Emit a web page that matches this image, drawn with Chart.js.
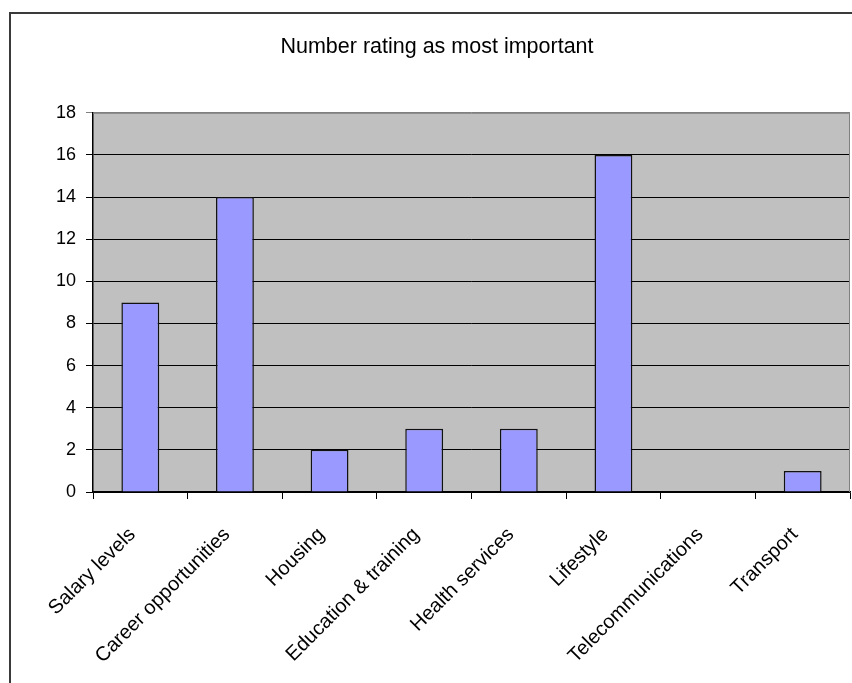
<!DOCTYPE html>
<html>
<head>
<meta charset="utf-8">
<script src="https://cdn.jsdelivr.net/npm/chart.js@4.4.1/dist/chart.umd.min.js"></script>
<style>
  html, body { margin: 0; padding: 0; background: #fff; }
  #wrap { width: 852px; height: 683px; position: relative; }
</style>
</head>
<body>
<div id="wrap"><canvas id="c" width="852" height="683"></canvas></div>
<script>
const chartTitle = "Number rating as most important";
const categories = ["Salary levels", "Career opportunities", "Housing", "Education & training", "Health services", "Lifestyle", "Telecommunications", "Transport"];
const ratingCounts = [9, 14, 2, 3, 3, 16, 0, 1];
const yTicks = [0, 2, 4, 6, 8, 10, 12, 14, 16, 18];

const frame = {
  id: 'frame',
  beforeDraw(chart) {
    const ctx = chart.ctx;
    const a = chart.chartArea;
    ctx.save();
    ctx.fillStyle = '#ffffff';
    ctx.fillRect(0, 0, chart.width, chart.height);
    ctx.strokeStyle = '#3a3a3a';
    ctx.lineWidth = 2;
    ctx.beginPath();
    ctx.moveTo(10, chart.height + 2);
    ctx.lineTo(10, 13);
    ctx.lineTo(chart.width + 2, 13);
    ctx.stroke();
    ctx.fillStyle = '#c0c0c0';
    ctx.fillRect(a.left, a.top, a.right - a.left, a.bottom - a.top);
    ctx.restore();
  },
  afterDatasetsDraw(chart) {
    const ctx = chart.ctx;
    const a = chart.chartArea;
    ctx.save();
    ctx.strokeStyle = '#808080';
    ctx.lineWidth = 1;
    ctx.beginPath();
    ctx.moveTo(a.left, a.top + 0.5);
    ctx.lineTo(a.right - 0.5, a.top + 0.5);
    ctx.lineTo(a.right - 0.5, a.bottom);
    ctx.stroke();
    ctx.restore();
  }
};

new Chart(document.getElementById('c'), {
  type: 'bar',
  data: {
    labels: categories,
    datasets: [{
      data: ratingCounts,
      backgroundColor: '#9999ff',
      borderColor: '#111111',
      borderWidth: 1.5,
      barPercentage: 0.4,
      categoryPercentage: 1.0
    }]
  },
  options: {
    responsive: false,
    animation: false,
    devicePixelRatio: 1,
    layout: { padding: { left: 24, right: 2, top: 34, bottom: 0 } },
    plugins: {
      legend: { display: false },
      tooltip: { enabled: false },
      title: {
        display: true,
        text: chartTitle,
        color: '#000',
        font: { family: 'Liberation Sans, Arial, sans-serif', size: 21.5, weight: 'normal' },
        padding: { top: 0, bottom: 53 }
      }
    },
    scales: {
      x: {
        offset: true,
        grid: { display: true, drawOnChartArea: false, drawTicks: true, tickLength: 7, color: '#000', lineWidth: 1 },
        border: { display: true, color: '#000', width: 1.5 },
        ticks: {
          color: '#000',
          minRotation: 45,
          maxRotation: 45,
          padding: 24,
          labelOffset: -8,
          autoSkip: false,
          font: { family: 'Liberation Sans, Arial, sans-serif', size: 20 }
        },
        afterFit(scale) { scale.height = 191; }
      },
      y: {
        min: 0,
        max: 18,
        afterBuildTicks(scale) { scale.ticks = yTicks.map(v => ({ value: v })); },
        grid: {
          color: (c) => (c.tick && c.tick.value === 18) ? '#808080' : '#000',
          lineWidth: 1,
          tickLength: 7,
          drawTicks: true
        },
        border: { display: true, color: '#000', width: 1.5 },
        ticks: {
          color: '#000',
          padding: 10,
          font: { family: 'Liberation Sans, Arial, sans-serif', size: 18 }
        },
        afterFit(scale) { scale.width = 69; }
      }
    }
  },
  plugins: [frame]
});
</script>
</body>
</html>
